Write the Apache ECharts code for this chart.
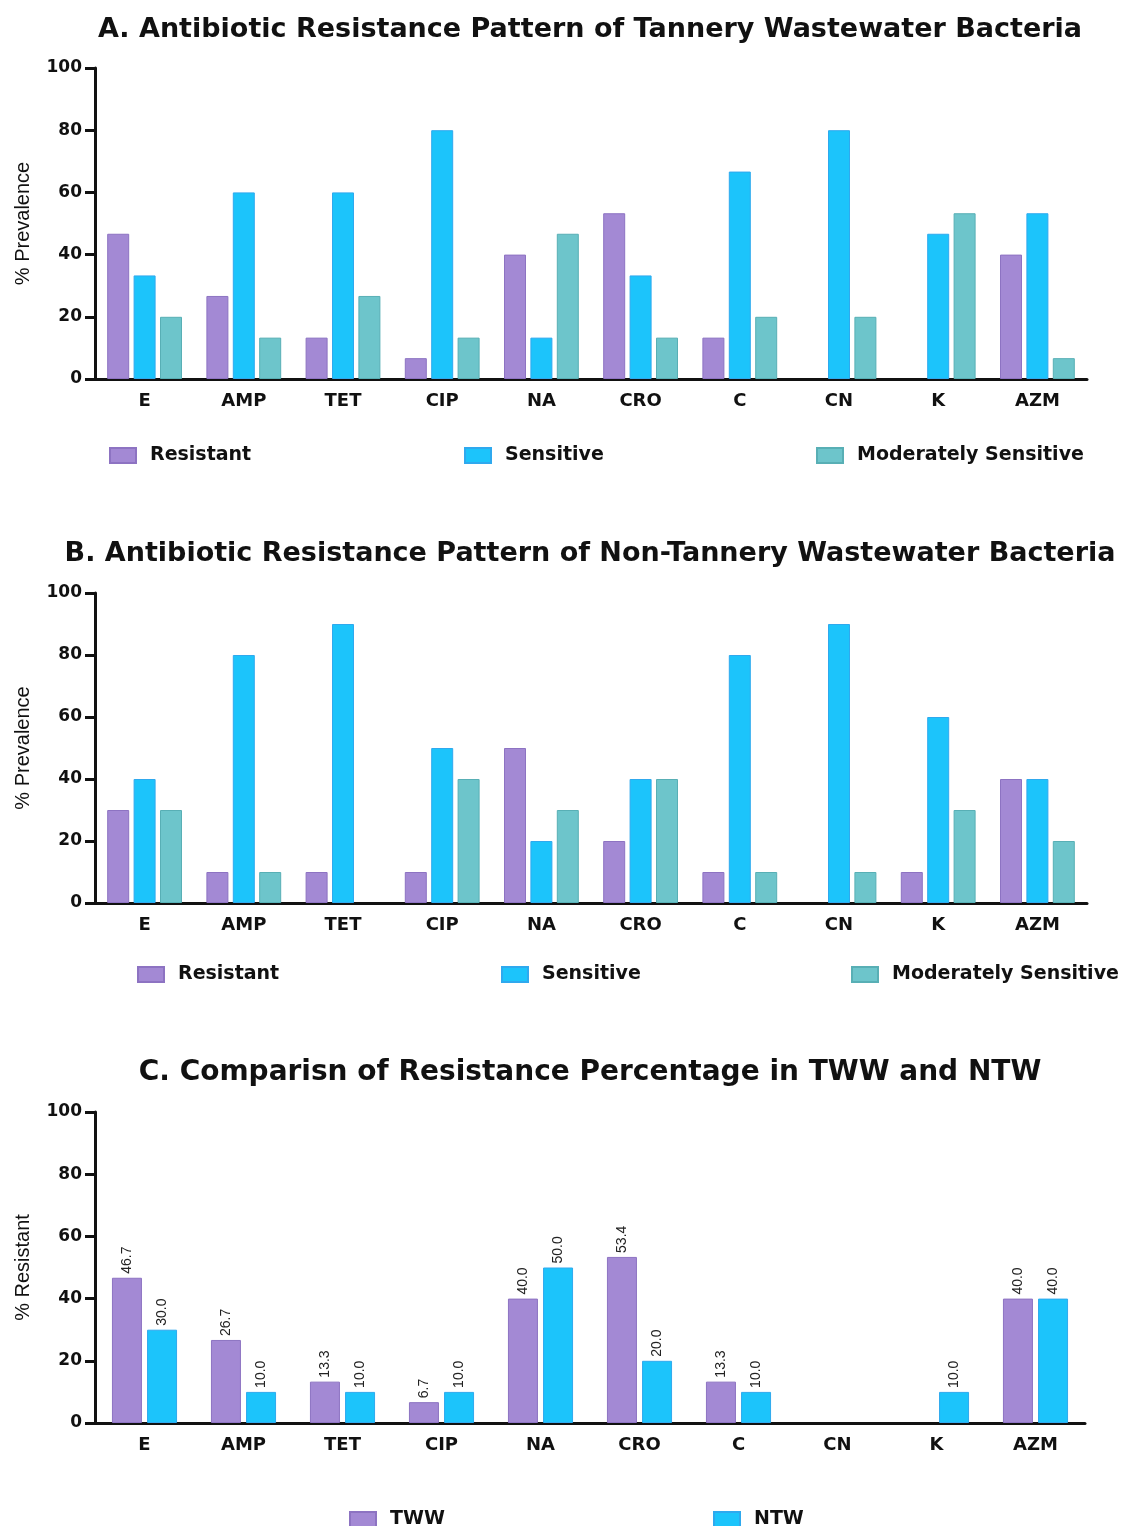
<!DOCTYPE html>
<html>
<head>
<meta charset="utf-8">
<style>
  html, body { margin: 0; padding: 0; background: #ffffff; }
  #chart { width: 1125px; height: 1526px; }
</style>
<script src="https://cdn.jsdelivr.net/npm/echarts@6/dist/echarts.min.js"></script>
</head>
<body>
<div id="chart"></div>
<script>
// Antibiotics tested
const antibiotics = ['E', 'AMP', 'TET', 'CIP', 'NA', 'CRO', 'C', 'CN', 'K', 'AZM'];
const yTicks = [0, 20, 40, 60, 80, 100];

// Panel A: tannery wastewater (TWW) isolates, % prevalence
const twwResistant = [46.7, 26.7, 13.3, 6.7, 40.0, 53.3, 13.3, 0, 0, 40.0];
const twwSensitive = [33.3, 60.0, 60.0, 80.0, 13.3, 33.3, 66.7, 80.0, 46.7, 53.3];
const twwModerate  = [20.0, 13.3, 26.7, 13.3, 46.7, 13.3, 20.0, 20.0, 53.3, 6.7];

// Panel B: non-tannery wastewater (NTW) isolates, % prevalence
const ntwResistant = [30, 10, 10, 10, 50, 20, 10, 0, 10, 40];
const ntwSensitive = [40, 80, 90, 50, 20, 40, 80, 90, 60, 40];
const ntwModerate  = [30, 10, 0, 40, 30, 40, 10, 10, 30, 20];

// Panel C: % resistant, TWW vs NTW
const compTWW = [46.7, 26.7, 13.3, 6.7, 40.0, 53.4, 13.3, 0, 0, 40.0];
const compNTW = [30.0, 10.0, 10.0, 10.0, 50.0, 20.0, 10.0, 0, 10.0, 40.0];

const COL_RES = '#a389d4', COL_SEN = '#1cc4fb', COL_MOD = '#6dc5cb';
const BRD_RES = '#8d73c2', BRD_SEN = '#2fa9ee', BRD_MOD = '#58afb5';
const INK = '#111111';
const BOLD = 'DejaVu Sans';

const panels = [
  { title: 'A. Antibiotic Resistance Pattern of Tannery Wastewater Bacteria',
    titleTop: 11, titleSize: 27, top: 68, height: 311, right: 38, yName: '% Prevalence',
    legendTop: 446, legendLeft: [109, 464, 816],
    series: [['Resistant', twwResistant, COL_RES, BRD_RES],
             ['Sensitive', twwSensitive, COL_SEN, BRD_SEN],
             ['Moderately Sensitive', twwModerate, COL_MOD, BRD_MOD]],
    barWidth: 22, barGap: '20%', labels: false },
  { title: 'B. Antibiotic Resistance Pattern of Non-Tannery Wastewater Bacteria',
    titleTop: 535, titleSize: 27, top: 593, height: 310, right: 38, yName: '% Prevalence',
    legendTop: 965, legendLeft: [137, 501, 851],
    series: [['Resistant', ntwResistant, COL_RES, BRD_RES],
             ['Sensitive', ntwSensitive, COL_SEN, BRD_SEN],
             ['Moderately Sensitive', ntwModerate, COL_MOD, BRD_MOD]],
    barWidth: 22, barGap: '20%', labels: false },
  { title: 'C. Comparisn of Resistance Percentage in TWW and NTW',
    titleTop: 1054, titleSize: 28, top: 1112, height: 311, right: 40, yName: '% Resistant',
    legendTop: 1510, legendLeft: [349, 713],
    series: [['TWW', compTWW, COL_RES, BRD_RES],
             ['NTW', compNTW, COL_SEN, BRD_SEN]],
    barWidth: 30, barGap: '17%', labels: true }
];

const option = {
  animation: false,
  backgroundColor: '#ffffff',
  title: [], legend: [], grid: [], xAxis: [], yAxis: [], series: []
};

panels.forEach((p, i) => {
  option.title.push({
    text: p.title, left: 585, top: p.titleTop, textAlign: 'center',
    textStyle: { fontFamily: BOLD, fontWeight: 'bold', fontSize: p.titleSize, color: INK }
  });
  option.grid.push({ left: 95, right: p.right, top: p.top, height: p.height });
  option.xAxis.push({
    type: 'category', gridIndex: i, data: antibiotics,
    axisLine: { lineStyle: { color: INK, width: 3 } },
    axisTick: { alignWithLabel: true, length: 8, lineStyle: { color: INK, width: 3 } },
    axisLabel: { margin: 13, fontFamily: BOLD, fontWeight: 'bold', fontSize: 18, color: INK },
    splitLine: { show: false }
  });
  option.yAxis.push({
    type: 'value', gridIndex: i, min: 0, max: 100, interval: 20,
    name: p.yName, nameLocation: 'middle', nameGap: 62, nameRotate: 90,
    nameTextStyle: { fontFamily: 'Liberation Sans', fontSize: 20, color: INK },
    axisLine: { show: true, lineStyle: { color: INK, width: 3 } },
    axisTick: { show: true, length: 10, lineStyle: { color: INK, width: 3 } },
    axisLabel: { margin: 13, fontFamily: BOLD, fontWeight: 'bold', fontSize: 17, color: INK,
                 formatter: v => (yTicks.includes(v) ? String(v) : '') },
    splitLine: { show: false }
  });
  p.series.forEach(([name, data, color, border], k) => {
    // zero-height bars get no outline so nothing shows on the baseline
    const items = data.map(v => (v === 0 ? { value: 0, itemStyle: { borderWidth: 0 } } : v));
    option.series.push({
      name, type: 'bar', xAxisIndex: i, yAxisIndex: i, data: items,
      barWidth: p.barWidth, barGap: p.barGap,
      itemStyle: { color, borderColor: border, borderWidth: 1 },
      label: p.labels ? {
        show: true, position: 'top', rotate: 90, align: 'left', verticalAlign: 'middle',
        distance: 4, fontFamily: 'Liberation Sans', fontSize: 14, color: '#222',
        formatter: q => (q.value > 0 ? q.value.toFixed(1) : '')
      } : { show: false }
    });
    option.legend.push({
      data: [name], left: p.legendLeft[k], top: p.legendTop, padding: 0,
      itemWidth: 26, itemHeight: 15, icon: 'rect', selectedMode: false,
      textStyle: { fontFamily: BOLD, fontWeight: 'bold', fontSize: 19, color: INK,
                   padding: [0, 0, 0, 9] }
    });
  });
});

const chart = echarts.init(document.getElementById('chart'), null, { renderer: 'canvas' });
chart.setOption(option);
</script>
</body>
</html>
